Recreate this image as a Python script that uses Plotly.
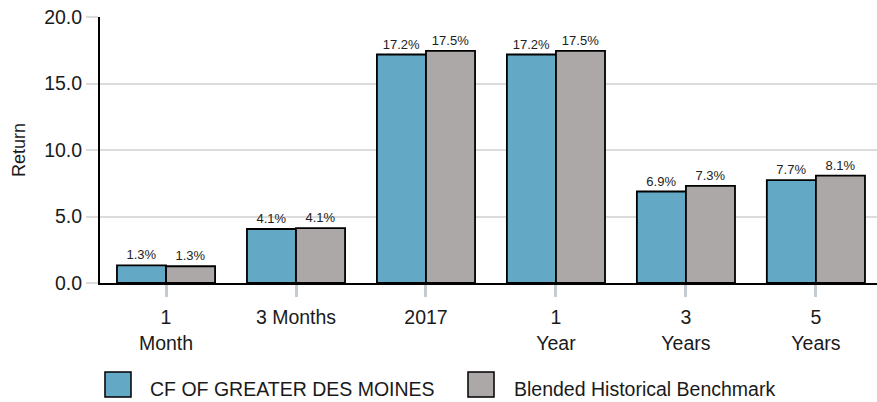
import plotly.graph_objects as go

categories = ["1<br>Month", "3 Months", "2017", "1<br>Year", "3<br>Years", "5<br>Years"]
fund_name = "CF OF GREATER DES MOINES"
bench_name = "Blended Historical Benchmark"
fund_values = [1.33, 4.06, 17.18, 17.18, 6.88, 7.74]
bench_values = [1.26, 4.12, 17.46, 17.46, 7.31, 8.07]
fund_color = "#63A8C4"
bench_color = "#ACA8A7"

FONT = "Liberation Sans, Arial, sans-serif"

fig = go.Figure()
for name, vals, col in [(fund_name, fund_values, fund_color), (bench_name, bench_values, bench_color)]:
    fig.add_trace(go.Bar(
        x=categories, y=vals, name=name,
        marker=dict(color=col, line=dict(color="#000000", width=1.8)),
        text=[f"{v:.1f}%" for v in vals],
        textposition="outside", textangle=0,
        textfont=dict(size=13, color="#222222", family=FONT),
        cliponaxis=False,
    ))

# custom legend (large squares)
legend_items = [
    (0.0064, 0.0399, 0.0618, fund_name, fund_color),
    (0.4736, 0.5071, 0.5302, bench_name, bench_color),
]
shapes = []
annotations = []
for x0, x1, xt, name, col in legend_items:
    shapes.append(dict(type="rect", xref="paper", yref="paper", x0=x0, x1=x1,
                       y0=-0.4286, y1=-0.3346, fillcolor=col,
                       line=dict(color="#000000", width=1.5)))
    annotations.append(dict(xref="paper", yref="paper", x=xt, y=-0.3985,
                            xanchor="left", yanchor="middle", text=name,
                            showarrow=False,
                            font=dict(size=19.5, color="#1a1a1a", family=FONT)))

fig.update_layout(
    width=877, height=402,
    margin=dict(l=100, r=0, t=17, b=119, autoexpand=False),
    plot_bgcolor="white", paper_bgcolor="white",
    barmode="group", bargap=0.245, bargroupgap=0,
    showlegend=False,
    font=dict(family=FONT, size=19.5, color="#1a1a1a"),
    shapes=shapes, annotations=annotations,
    uniformtext=dict(minsize=12, mode="show"),
)
fig.update_xaxes(
    range=[-0.508, 5.47], automargin=False,
    showline=True, linecolor="#000000", linewidth=2,
    ticks="outside", ticklen=12, tickwidth=3, tickcolor="#c5ccd1",
    tickfont=dict(size=19.5, family=FONT, color="#1a1a1a"),
    ticklabelstandoff=4,
    showgrid=False,
)
fig.update_yaxes(
    range=[0, 20], dtick=5, tickformat=".1f", automargin=False,
    showline=True, linecolor="#000000", linewidth=2,
    showgrid=True, gridcolor="#dcdcdc", gridwidth=1.5,
    ticks="outside", ticklen=12, tickcolor="#dcdcdc", tickwidth=1.5,
    zeroline=False,
    tickfont=dict(size=19.5, family=FONT, color="#1a1a1a"),
    title=dict(text="Return", font=dict(size=18, family=FONT, color="#1a1a1a"), standoff=14),
)

fig.write_html("out.html", config={"displayModeBar": False},
               post_script="document.body.style.margin='0';document.body.style.overflow='hidden';")
